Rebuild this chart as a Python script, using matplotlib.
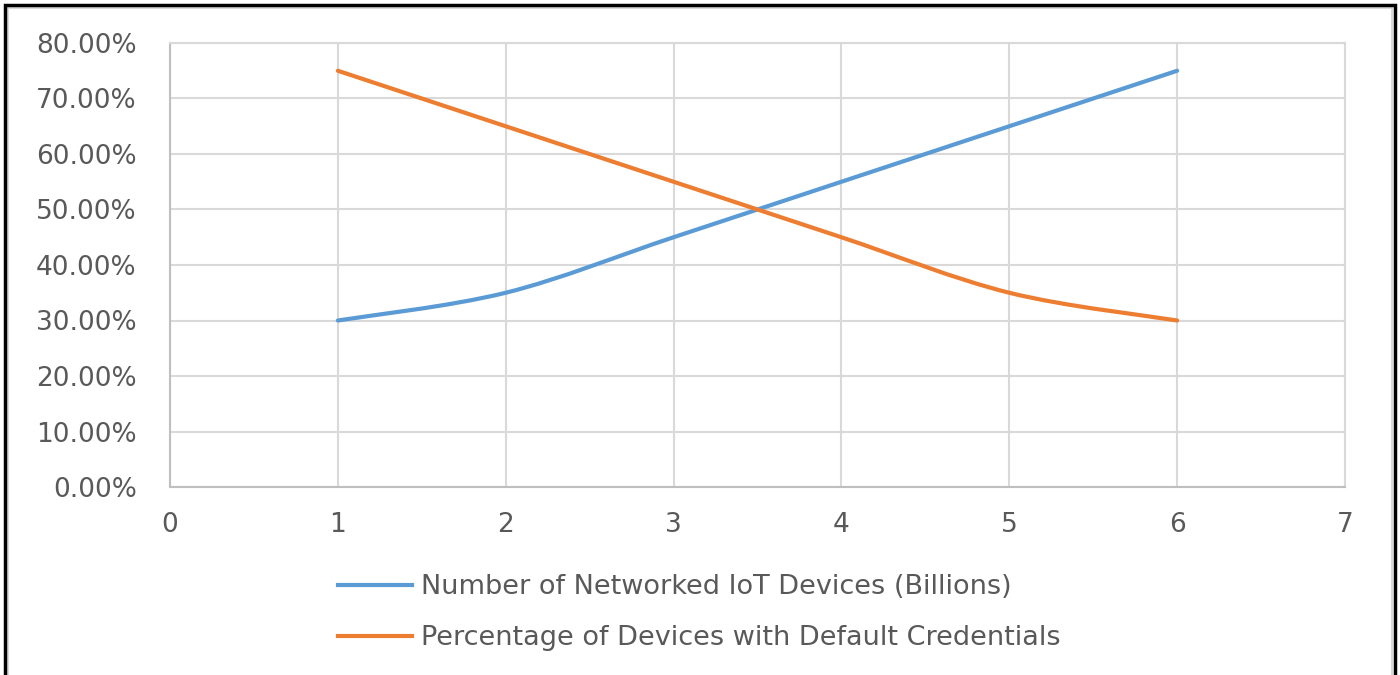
import matplotlib
matplotlib.use("Agg")
import matplotlib.pyplot as plt
from matplotlib.path import Path
from matplotlib.patches import PathPatch, Rectangle
from matplotlib.lines import Line2D
from matplotlib.ticker import FuncFormatter, MultipleLocator

x_values = [1, 2, 3, 4, 5, 6]
iot_devices = [0.30, 0.35, 0.45, 0.55, 0.65, 0.75]
default_creds = [0.75, 0.65, 0.55, 0.45, 0.35, 0.30]
series_names = ["Number of Networked IoT Devices (Billions)",
                "Percentage of Devices with Default Credentials"]
series_colors = ["#5B9BD5", "#ED7D31"]

FONT = ["DejaVu Sans"]
TXT = "#595959"
FS = 19
LFS = 19.5

fig = plt.figure(figsize=(14, 6.75), dpi=100)
ax = fig.add_axes([170/1400, 1-487/675, (1345-170)/1400, (487-43)/675])


def smooth_path(xs, ys):
    # Excel-style smoothed line rendered as cubic Bezier segments
    pts = list(zip(xs, ys))
    n = len(pts)
    verts = [pts[0]]
    codes = [Path.MOVETO]
    for i in range(n - 1):
        p0 = pts[i - 1] if i > 0 else pts[i]
        p1 = pts[i]
        p2 = pts[i + 1]
        p3 = pts[i + 2] if i + 2 < n else pts[i + 1]
        c1 = (p1[0] + (p2[0] - p0[0]) / 6, p1[1] + (p2[1] - p0[1]) / 6)
        c2 = (p2[0] - (p3[0] - p1[0]) / 6, p2[1] - (p3[1] - p1[1]) / 6)
        verts += [c1, c2, p2]
        codes += [Path.CURVE4] * 3
    return Path(verts, codes)


for ys, c in zip([iot_devices, default_creds], series_colors):
    patch = PathPatch(smooth_path(x_values, ys), facecolor="none",
                      edgecolor=c, lw=3, capstyle="round", zorder=3)
    ax.add_patch(patch)

ax.set_xlim(0, 7)
ax.set_ylim(0, 0.8)
ax.xaxis.set_major_locator(MultipleLocator(1))
ax.yaxis.set_major_locator(MultipleLocator(0.1))
ax.yaxis.set_major_formatter(FuncFormatter(lambda v, p: f"{v*100:.2f}%"))
ax.grid(True, color="#d9d9d9", lw=1.5)
ax.set_axisbelow(True)
for s in ["top", "right"]:
    ax.spines[s].set_color("#d9d9d9")
    ax.spines[s].set_linewidth(1.5)
for s in ["left", "bottom"]:
    ax.spines[s].set_color("#bfbfbf")
    ax.spines[s].set_linewidth(1.5)
ax.tick_params(length=0, labelsize=FS, labelcolor=TXT)
ax.tick_params(axis="x", pad=18)
ax.tick_params(axis="y", pad=24)
for lab in ax.get_xticklabels() + ax.get_yticklabels():
    lab.set_family(FONT)

handles = [Line2D([], [], color=c, lw=3) for c in series_colors]
leg = fig.legend(handles, series_names, loc="upper left",
                 bbox_to_anchor=(338/1400, 1-574/675), frameon=False,
                 borderpad=0, borderaxespad=0,
                 prop={"family": FONT, "size": LFS}, labelcolor=TXT,
                 handlelength=2.75, handletextpad=0.3, labelspacing=0.93)

# outer frame
fig.add_artist(Rectangle((8/1400, -0.05), 1384/1400, 1.05 - 8/675,
                         transform=fig.transFigure, fill=False,
                         edgecolor="#d9d9d9", lw=1.5))
fig.add_artist(Rectangle((5/1400, -0.05), 1390/1400, 1.05 - 5/675,
                         transform=fig.transFigure, fill=False,
                         edgecolor="black", lw=2.5))

fig.savefig("out.png", dpi=100)
